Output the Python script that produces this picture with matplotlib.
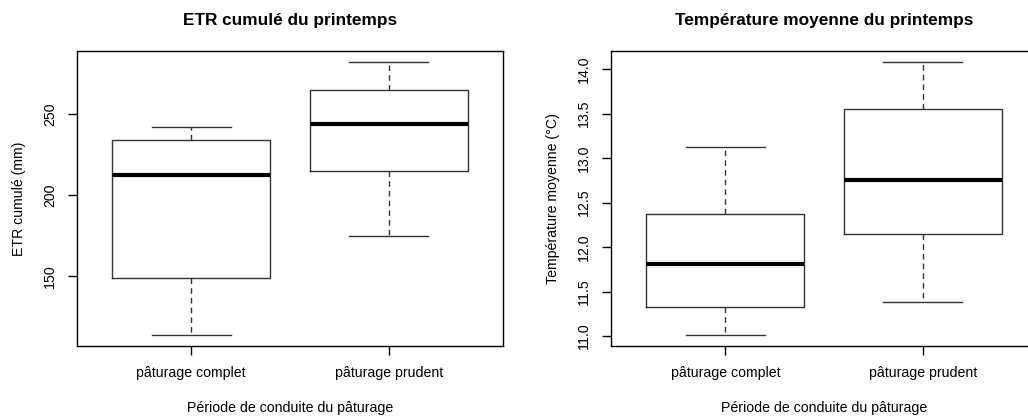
import matplotlib.pyplot as plt

plt.rcParams['font.family'] = ['Liberation Sans', 'DejaVu Sans']

groupes = ['pâturage complet', 'pâturage prudent']

# ETR cumulé (mm) : moustache basse, Q1, médiane, Q3, moustache haute
etr_bas = [113.7, 174.8]
etr_q1 = [149.2, 214.9]
etr_med = [212.6, 244.0]
etr_q3 = [234.5, 265.0]
etr_haut = [242.0, 282.4]

# Température moyenne (°C)
temp_bas = [11.01, 11.38]
temp_q1 = [11.33, 12.15]
temp_med = [11.81, 12.75]
temp_q3 = [12.37, 13.55]
temp_haut = [13.12, 14.08]


def stats(bas, q1, med, q3, haut):
    return [dict(whislo=b, q1=a, med=m, q3=c, whishi=h, fliers=[])
            for b, a, m, c, h in zip(bas, q1, med, q3, haut)]


def boite(ax, st, titre, ylab, ticks):
    ax.bxp(st, positions=[1, 2], widths=0.8, showfliers=False,
           boxprops=dict(color='#333333', lw=1),
           medianprops=dict(color='black', lw=3, solid_capstyle='butt'),
           whiskerprops=dict(color='#333333', lw=1, linestyle=(0, (4, 3))),
           capprops=dict(color='#333333', lw=1),
           capwidths=0.4)
    lo = min(s['whislo'] for s in st)
    hi = max(s['whishi'] for s in st)
    pad = (hi - lo) * 0.04
    ax.set_ylim(lo - pad, hi + pad)
    ax.set_xlim(0.42, 2.58)
    ax.set_xticks([1, 2])
    ax.set_xticklabels(groupes, fontsize=10.2)
    ax.set_yticks(ticks)
    ax.set_yticklabels([f'{t:g}' if isinstance(t, int) else f'{t:.1f}' for t in ticks],
                       rotation=90, va='center', fontsize=10.2)
    ax.tick_params(length=6.2, width=1, pad=8)
    for sp in ax.spines.values():
        sp.set_linewidth(1)
    ax.set_title(titre, fontsize=12.4, fontweight='bold', pad=19)
    ax.set_xlabel('Période de conduite du pâturage', fontsize=10.2, labelpad=15)
    ax.set_ylabel(ylab, fontsize=10.2, labelpad=12)


fig = plt.figure(figsize=(10.28, 4.18), dpi=100)
ax1 = fig.add_axes([0.0747, 0.1722, 0.4148, 0.7057])
ax2 = fig.add_axes([0.5942, 0.1722, 0.4148, 0.7057])

boite(ax1, stats(etr_bas, etr_q1, etr_med, etr_q3, etr_haut),
      'ETR cumulé du printemps', 'ETR cumulé (mm)', [150, 200, 250])
boite(ax2, stats(temp_bas, temp_q1, temp_med, temp_q3, temp_haut),
      'Température moyenne du printemps', 'Température moyenne (°C)',
      [11.0, 11.5, 12.0, 12.5, 13.0, 13.5, 14.0])

fig.savefig('out.png', dpi=100)
